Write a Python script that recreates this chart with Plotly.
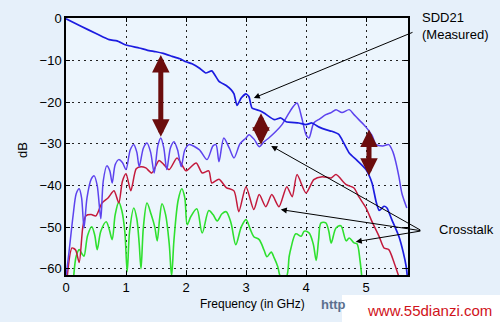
import plotly.graph_objects as go

# ---------------- data ----------------
sdd21_f = [0.0, 0.25, 0.5, 0.72, 0.85, 1.0, 1.22, 1.35, 1.5, 1.62, 1.77, 1.9, 2.0, 2.1,
           2.22, 2.33, 2.43, 2.55, 2.67, 2.75, 2.8, 2.85, 2.92, 3.0, 3.05, 3.1, 3.22, 3.3,
           3.47, 3.58, 3.67, 3.88, 4.0, 4.1, 4.22, 4.33, 4.43, 4.55, 4.6, 4.72, 4.85, 5.0,
           5.1, 5.17, 5.22, 5.3, 5.35, 5.43, 5.55, 5.62, 5.67, 5.69]
sdd21_db = [0.0, -1.8, -3.5, -5.0, -5.3, -6.3, -7.0, -7.5, -7.9, -8.3, -9.0, -9.6, -10.3, -10.8,
            -11.8, -13.0, -12.5, -15.0, -16.0, -17.0, -18.0, -20.8, -19.0, -18.0, -18.7, -21.4, -22.0, -22.6,
            -24.2, -23.8, -24.7, -25.0, -25.4, -25.0, -26.0, -26.6, -27.0, -27.8, -29.0, -32.2, -34.0, -36.2,
            -39.4, -44.0, -46.0, -45.0, -45.4, -48.2, -52.3, -56.0, -59.5, -62.0]

xt1_f = [0.0, 0.05, 0.12, 0.17, 0.22, 0.26, 0.3, 0.35, 0.42, 0.47, 0.52, 0.58, 0.62, 0.68,
         0.73, 0.77, 0.82, 0.88, 0.94, 1.0, 1.07, 1.13, 1.18, 1.22, 1.29, 1.35, 1.41, 1.47,
         1.53, 1.58, 1.63, 1.68, 1.74, 1.8, 1.86, 1.92, 1.98, 2.05, 2.22, 2.35, 2.45, 2.5,
         2.55, 2.63, 2.72, 2.8, 2.9, 3.0, 3.05, 3.14, 3.22, 3.3, 3.38, 3.5, 3.6, 3.7, 3.77,
         3.85, 3.93, 4.0, 4.05, 4.13, 4.23, 4.33, 4.42, 4.5, 4.6, 4.72, 4.8, 4.88, 5.0, 5.1,
         5.17, 5.28, 5.38, 5.45, 5.5, 5.55, 5.6, 5.68]
xt1_db = [-62.0, -56.0, -47.0, -42.0, -40.8, -43.0, -50.2, -43.0, -38.5, -37.7, -40.0, -48.0, -39.0, -35.3,
          -36.5, -39.4, -35.0, -33.8, -34.5, -36.2, -31.5, -30.2, -32.0, -35.5, -31.0, -29.8, -32.0, -37.0,
          -30.5, -28.6, -31.0, -36.2, -31.0, -29.5, -31.5, -35.5, -31.5, -30.2, -31.4, -33.8, -30.5, -30.2,
          -34.3, -28.6, -31.0, -33.4, -30.0, -28.6, -27.8, -29.0, -30.7, -29.5, -28.6, -27.0, -25.4, -23.0, -21.4,
          -20.2, -23.8, -27.8, -28.6, -25.0, -24.0, -23.0, -22.5, -21.8, -22.5, -21.8, -23.0, -24.2, -26.0, -28.0,
          -30.2, -30.5, -30.2, -32.0, -34.6, -38.0, -42.0, -45.4]

xt2_f = [0.02, 0.1, 0.16, 0.22, 0.28, 0.33, 0.42, 0.5, 0.6, 0.7, 0.8, 0.88, 0.94, 1.0,
         1.08, 1.17, 1.25, 1.33, 1.43, 1.55, 1.63, 1.72, 1.85, 1.95, 2.0, 2.17, 2.27, 2.38,
         2.43, 2.55, 2.67, 2.8, 2.88, 3.0, 3.13, 3.22, 3.33, 3.43, 3.55, 3.68, 3.77, 3.85,
         4.0, 4.13, 4.27, 4.42, 4.5, 4.67, 4.8, 4.88, 5.0, 5.1, 5.22, 5.3, 5.38, 5.47, 5.55]
xt2_db = [-62.0, -55.0, -55.5, -58.5, -50.0, -47.3, -47.0, -47.3, -44.2, -43.0, -41.3, -44.2, -39.0, -37.2,
          -41.3, -36.0, -35.5, -35.8, -37.0, -34.0, -35.0, -36.2, -33.4, -35.5, -36.5, -34.6, -37.0, -36.5,
          -39.4, -38.5, -40.5, -41.3, -46.3, -40.3, -45.8, -42.2, -45.1, -42.2, -45.1, -40.3, -42.7, -37.4,
          -41.8, -38.6, -37.9, -38.2, -37.4, -39.8, -40.6, -42.7, -45.4, -48.7, -52.3, -55.0, -55.4, -58.6, -62.0]

xt3_f = [0.13, 0.17, 0.22, 0.27, 0.3, 0.36, 0.43, 0.48, 0.52, 0.58, 0.67, 0.72, 0.77, 0.82,
         0.88, 0.93, 0.98, 1.02, 1.06, 1.13, 1.18, 1.22, 1.25, 1.29, 1.35, 1.42, 1.48, 1.52,
         1.56, 1.6, 1.66, 1.72, 1.76, 1.8, 1.87, 1.93, 1.98, 2.02, 2.08, 2.18, 2.27, 2.38,
         2.45, 2.52, 2.6, 2.67, 2.75, 2.83, 2.92, 3.0, 3.07, 3.13, 3.22, 3.3, 3.35, 3.42,
         3.47, 3.53, 3.58, 3.67, 3.72, 3.75, 3.83, 3.92, 3.97, 4.05, 4.12, 4.17, 4.21, 4.25,
         4.33, 4.38, 4.42, 4.5, 4.58, 4.67, 4.72, 4.8, 4.85, 4.9, 4.93]
xt3_db = [-61.5, -57.0, -55.4, -56.5, -57.0, -52.0, -49.9, -52.0, -55.4, -51.0, -48.7, -50.5, -53.0, -47.0,
          -44.0, -46.0, -51.0, -60.7, -51.0, -45.4, -48.0, -54.0, -60.0, -50.0, -44.2, -47.0, -50.0, -53.3,
          -48.0, -44.4, -47.0, -54.0, -61.7, -53.0, -43.5, -40.8, -43.0, -49.4, -47.5, -45.6, -51.4, -46.0,
          -47.0, -48.5, -46.8, -46.3, -49.0, -54.2, -50.0, -48.2, -50.5, -52.3, -53.0, -55.5, -57.1, -56.0,
          -57.4, -59.5, -62.0, -62.0, -57.0, -55.0, -51.6, -52.2, -51.0, -51.4, -54.0, -58.0, -53.0, -49.0,
          -49.0, -51.0, -53.8, -50.2, -49.7, -53.3, -52.6, -53.8, -54.0, -58.0, -62.0]

x_ticks = [0, 1, 2, 3, 4, 5]
y_ticks = [0, -10, -20, -30, -40, -50, -60]

FONT = "Arial, Liberation Sans, sans-serif"

fig = go.Figure()
fig.add_trace(go.Scatter(x=xt3_f, y=xt3_db, mode="lines",
                         line=dict(color="#2fe02f", width=1.6, shape="spline", smoothing=0.9),
                         name="Crosstalk 3"))
fig.add_trace(go.Scatter(x=xt2_f, y=xt2_db, mode="lines",
                         line=dict(color="#c31a3c", width=1.5, shape="spline", smoothing=0.7),
                         name="Crosstalk 2"))
fig.add_trace(go.Scatter(x=xt1_f, y=xt1_db, mode="lines",
                         line=dict(color="#5d43ee", width=1.5, shape="spline", smoothing=0.8),
                         name="Crosstalk 1"))
fig.add_trace(go.Scatter(x=sdd21_f, y=sdd21_db, mode="lines",
                         line=dict(color="#1c1ce0", width=1.7, shape="spline", smoothing=0.5),
                         name="SDD21"))

# maroon double-headed arrows (margin indicators)
MAROON = "#6b0d0d"
for (xf, ytop, ybot) in [(1.58, -8.3, -28.3), (3.25, -22.3, -30.2), (5.05, -26.2, -37.7)]:
    fig.add_annotation(x=xf, y=ybot, ax=xf, ay=ytop, xref="x", yref="y", axref="x", ayref="y",
                       showarrow=True, arrowhead=2, arrowside="end+start", arrowsize=0.7,
                       arrowwidth=5, arrowcolor=MAROON, text="")

# black pointer arrows
fig.add_annotation(x=3.13, y=-19.0, ax=5.8, ay=-3.1, xref="x", yref="y", axref="x", ayref="y",
                   showarrow=True, arrowhead=2, arrowsize=1.2, arrowwidth=1, arrowcolor="black", text="")
for (tx, ty) in [(3.42, -30.5), (3.58, -45.8), (4.83, -53.5)]:
    fig.add_annotation(x=tx, y=ty, ax=5.93, ay=-50.9, xref="x", yref="y", axref="x", ayref="y",
                       showarrow=True, arrowhead=2, arrowsize=1.2, arrowwidth=1, arrowcolor="black", text="")

W, H = 500, 322
L, R, T, B = 66, 408, 18, 275
def px(xp): return (xp - L) / (R - L)
def py(yp): return (B - yp) / (B - T)

fig.add_annotation(x=px(420), y=py(17), xref="paper", yref="paper", xanchor="left", yanchor="middle",
                   text="SDD21", showarrow=False, font=dict(family=FONT, size=13, color="black"))
fig.add_annotation(x=px(420), y=py(34), xref="paper", yref="paper", xanchor="left", yanchor="middle",
                   text="(Measured)", showarrow=False, font=dict(family=FONT, size=13, color="black"))
fig.add_annotation(x=px(437), y=py(229), xref="paper", yref="paper", xanchor="left", yanchor="middle",
                   text="Crosstalk", showarrow=False, font=dict(family=FONT, size=13, color="black"))
fig.add_annotation(x=px(252), y=py(304), xref="paper", yref="paper", xanchor="center", yanchor="middle",
                   text="Frequency (in GHz)", showarrow=False, font=dict(family=FONT, size=12, color="black"))
fig.add_annotation(x=px(22), y=py(150), xref="paper", yref="paper", xanchor="center", yanchor="middle",
                   text="dB", textangle=-90, showarrow=False, font=dict(family=FONT, size=13, color="black"))
fig.add_annotation(x=px(319), y=py(304), xref="paper", yref="paper", xanchor="left", yanchor="middle",
                   text="<b>http</b>", showarrow=False, font=dict(family=FONT, size=13, color="#5b6f8e"))

# watermark box
fig.add_shape(type="rect", xref="paper", yref="paper", x0=px(342), x1=px(500), y0=py(322), y1=py(295),
              fillcolor="white", line=dict(width=0), layer="above")
fig.add_annotation(x=px(365), y=py(310), xref="paper", yref="paper", xanchor="left", yanchor="middle",
                   text="www.55dianzi.com", showarrow=False, font=dict(family=FONT, size=15, color="#d0121a"))

axis_common = dict(showline=True, linecolor="black", linewidth=1.5, mirror="ticks",
                   ticks="inside", ticklen=4, tickcolor="black", showgrid=True,
                   gridcolor="#222", gridwidth=1, griddash="2px,4px", zeroline=False,
                   tickfont=dict(family=FONT, size=13, color="black"))

fig.update_xaxes(range=[0, (R - L) / 60.0], tickvals=x_ticks, ticktext=[str(v) for v in x_ticks],
                 **axis_common)
fig.update_yaxes(range=[-61.5, 0.2], tickvals=y_ticks, **axis_common)

fig.update_layout(width=W, height=H, autosize=False, showlegend=False,
                  margin=dict(l=L, r=W - R, t=T, b=H - B),
                  paper_bgcolor="#e6f0fa", plot_bgcolor="#ecf5fd",
                  font=dict(family=FONT, color="black"))

fig.write_html("out.html", config={"displayModeBar": False},
               post_script="document.body.style.margin='0';document.body.style.padding='0';")
